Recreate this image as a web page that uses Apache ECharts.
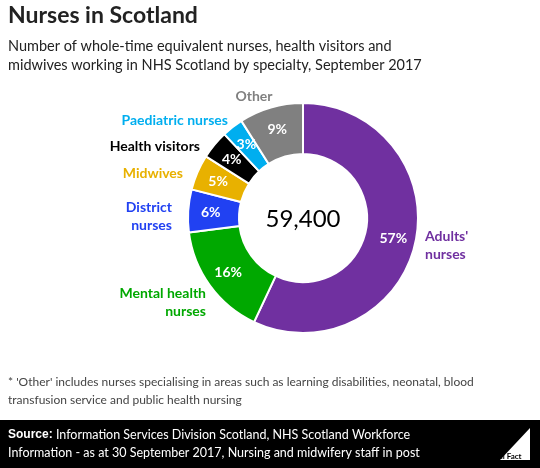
<!DOCTYPE html>
<html><head><meta charset="utf-8">
<script src="https://cdn.jsdelivr.net/npm/echarts@6/dist/echarts.min.js"></script>
<style>body{margin:0;background:#fff}#c{width:540px;height:468px}</style>
</head><body><div id="c"></div>
<script>
// specialties, clockwise from 12 o'clock
const specialties = ["Adults' nurses", "Mental health nurses", "District nurses", "Midwives", "Health visitors", "Paediatric nurses", "Other"];
const shares = [57, 16, 6, 5, 4, 3, 9];
const colours = ['#7030a0', '#00a800', '#2141f2', '#e8b100', '#000000', '#00aeef', '#808080'];
const total = '59,400';

const F = 'Lato, "Open Sans", sans-serif';
const chart = echarts.init(document.getElementById('c'));

// outer category labels: [text lines, x, y, align]
const outer = [
    [["Adults'", 'nurses'], 425, 245, 'left'],
    [['Mental health', 'nurses'], 206, 302, 'right'],
    [['District', 'nurses'], 172, 216, 'right'],
    [['Midwives'], 183, 173, 'right'],
    [['Health visitors'], 200, 146, 'right'],
    [['Paediatric nurses'], 228, 120, 'right'],
    [['Other'], 254, 96, 'center']
];

const graphic = [
    {type: 'text', left: 8, top: 4, style: {text: 'Nurses in Scotland', font: 'bold 23px ' + F, fill: '#222'}},
    {type: 'text', left: 8, top: 37, style: {text: 'Number of whole-time equivalent nurses, health visitors and\nmidwives working in NHS Scotland by specialty, September 2017', font: '14.5px ' + F, fill: '#222', lineHeight: 19}},
    {type: 'text', left: 8, top: 373, style: {text: "* 'Other' includes nurses specialising in areas such as learning disabilities, neonatal, blood\ntransfusion service and public health nursing", font: '12px ' + F, fill: '#444', lineHeight: 18}},
    {type: 'rect', left: 0, top: 420, shape: {width: 540, height: 48}, style: {fill: '#000'}},
    {type: 'text', left: 8, top: 426, style: {text: '{b|Source:} Information Services Division Scotland, NHS Scotland Workforce\nInformation - as at 30 September 2017, Nursing and midwifery staff in post', font: '12.5px ' + F, fill: '#fff', lineHeight: 18, rich: {b: {fontWeight: 'bold', fill: '#fff', font: 'bold 12.5px ' + F}}}},
    {type: 'polygon', shape: {points: [[500, 460], [530, 428], [530, 460]]}, style: {fill: '#fff'}},
    {type: 'text', left: 492, top: 452, style: {text: 'Full Fact', font: 'bold 8px ' + F, fill: '#000'}},
    {type: 'text', x: 303, y: 219, style: {text: total, font: '24px ' + F, fill: '#000', align: 'center', verticalAlign: 'middle'}}
];
outer.forEach((o, i) => {
    graphic.push({type: 'text', x: o[1], y: o[2], style: {text: o[0].join('\n'), font: 'bold 14px ' + F, fill: colours[i], align: o[3], verticalAlign: 'middle', lineHeight: 18}});
});

chart.setOption({
    animation: false,
    graphic: graphic,
    series: [{
        type: 'pie',
        center: [303, 218],
        radius: [64, 115],
        startAngle: 90,
        clockwise: true,
        itemStyle: {borderColor: '#fff', borderWidth: 2},
        label: {
            position: 'inside',
            formatter: p => p.value + '%',
            color: '#fff',
            fontFamily: F,
            fontWeight: 'bold',
            fontSize: 14
        },
        labelLine: {show: false},
        data: specialties.map((s, i) => ({name: s, value: shares[i], itemStyle: {color: colours[i]}}))
    }]
});
</script>
</body></html>
